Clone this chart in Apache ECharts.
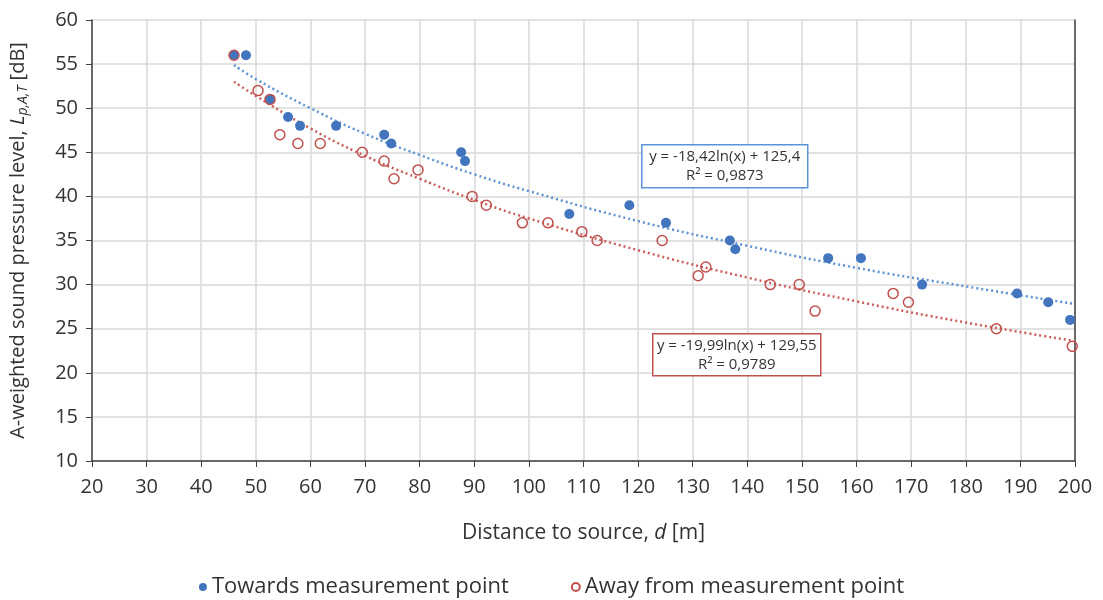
<!DOCTYPE html>
<html>
<head>
<meta charset="utf-8">
<script src="https://cdn.jsdelivr.net/npm/echarts@6/dist/echarts.min.js"></script>
<style>
  html, body { margin: 0; padding: 0; background: #fff; }
  #chart { width: 1103px; height: 600px; }
</style>
</head>
<body>
<div id="chart"></div>
<script>
var towardsX = [46, 48.2, 52.6, 55.9, 58.1, 64.7, 73.5, 74.8, 87.6, 88.3, 107.4, 118.4, 125.1, 136.8, 137.8, 154.8, 160.8, 172, 189.4, 195.1, 199.1];
var towardsY = [56, 56, 51, 49, 48, 48, 47, 46, 45, 44, 38, 39, 37, 35, 34, 33, 33, 30, 29, 28, 26];

var awayX = [46, 50.4, 52.6, 54.4, 57.7, 61.8, 69.5, 73.5, 75.3, 79.7, 89.6, 92.2, 98.8, 103.5, 109.7, 112.5, 124.4, 131, 132.4, 144.2, 149.5, 152.4, 166.7, 169.5, 185.6, 199.5];
var awayY = [56, 52, 51, 47, 46, 46, 45, 44, 42, 43, 40, 39, 37, 37, 36, 35, 35, 31, 32, 30, 30, 27, 29, 28, 25, 23];

// trend lines
var trendX = [46, 50, 60, 70, 80, 90, 100, 120, 140, 160, 180, 200];
var towardsTrend = [54.9, 53.3, 50.0, 47.1, 44.7, 42.5, 40.6, 37.2, 34.4, 31.9, 29.8, 27.8];
var awayTrend = [53.0, 51.4, 47.7, 44.6, 42.0, 39.6, 37.5, 33.9, 30.8, 28.1, 25.7, 23.6];

var towardsEq = ['y = -18,42ln(x) + 125,4', 'R\u00b2 = 0,9873'];
var awayEq = ['y = -19,99ln(x) + 129,55', 'R\u00b2 = 0,9789'];

var blue = '#4275bd';
var red = '#c0504d';
var font = 'Open Sans';
var ink = '#333333';

function pairs(xs, ys) {
    return xs.map(function (x, i) { return [x, ys[i]]; });
}

var chart = echarts.init(document.getElementById('chart'));

var option = {
    animation: false,
    textStyle: { fontFamily: font },
    grid: { left: 92, right: 28, top: 20, bottom: 139 },
    legend: {
        bottom: -3,
        left: 'center',
        itemGap: 62,
        itemWidth: 8,
        itemHeight: 8,
        textStyle: { fontSize: 22, color: ink, fontFamily: font },
        data: ['Towards measurement point', 'Away from measurement point']
    },
    xAxis: {
        type: 'value',
        min: 20,
        max: 200,
        interval: 10,
        name: 'Distance to source, {i|d} [m]',
        nameLocation: 'middle',
        nameGap: 62,
        nameTextStyle: {
            fontSize: 21, color: ink, fontFamily: font,
            rich: { i: { fontStyle: 'italic', fontSize: 21, color: ink, fontFamily: font } }
        },
        axisLine: { show: true, lineStyle: { color: '#404040', width: 1.5 } },
        axisTick: { show: true, length: 6, lineStyle: { color: '#404040' } },
        axisLabel: { fontSize: 20, color: ink, margin: 16 },
        splitLine: { show: true, lineStyle: { color: '#d9d9d9', width: 1.5 } }
    },
    yAxis: [{
        type: 'value',
        min: 10,
        max: 60,
        interval: 5,
        name: 'A-weighted sound pressure level, {i|L}{s|p,A,T} [dB]',
        nameLocation: 'middle',
        nameGap: 62,
        nameTextStyle: {
            fontSize: 20, color: ink, fontFamily: font,
            rich: {
                i: { fontStyle: 'italic', fontSize: 20, color: ink, fontFamily: font },
                s: { fontStyle: 'italic', fontSize: 14, color: ink, fontFamily: font, padding: [9, 0, 0, 0] }
            }
        },
        axisLine: { show: true, lineStyle: { color: '#404040', width: 1.5 } },
        axisTick: { show: true, length: 6, lineStyle: { color: '#404040' } },
        axisLabel: { fontSize: 20, color: ink, margin: 14 },
        splitLine: { show: true, lineStyle: { color: '#d9d9d9', width: 1.5 } }
    }, {
        type: 'value',
        position: 'right',
        min: 10,
        max: 60,
        interval: 5,
        axisLine: { show: true, lineStyle: { color: '#404040', width: 1.5 } },
        axisTick: { show: false },
        axisLabel: { show: false },
        splitLine: { show: false }
    }],
    series: [{
        name: 'towards trend',
        type: 'line',
        data: pairs(trendX, towardsTrend),
        smooth: true,
        showSymbol: false,
        silent: true,
        z: 1,
        lineStyle: { color: '#5b93d3', width: 2.5, type: [2, 3] }
    }, {
        name: 'away trend',
        type: 'line',
        data: pairs(trendX, awayTrend),
        smooth: true,
        showSymbol: false,
        silent: true,
        z: 1,
        lineStyle: { color: '#cd5c58', width: 2.5, type: [2, 3] }
    }, {
        name: 'Towards measurement point',
        type: 'scatter',
        symbol: 'circle',
        symbolSize: 10,
        z: 3,
        itemStyle: { color: blue, opacity: 1 },
        data: pairs(towardsX, towardsY)
    }, {
        name: 'Away from measurement point',
        type: 'scatter',
        symbol: 'circle',
        symbolSize: 10,
        z: 4,
        itemStyle: { color: 'rgba(255,255,255,0)', borderColor: red, borderWidth: 1.5, opacity: 1 },
        data: pairs(awayX, awayY)
    }],
    graphic: [{
        type: 'group',
        left: 641,
        top: 144,
        z: 100,
        children: [{
            type: 'rect',
            z: 100,
            shape: { x: 0, y: 0, width: 166, height: 43 },
            style: { fill: '#fff', stroke: '#5b93d3', lineWidth: 1.5 }
        }, {
            type: 'text',
            z: 101,
            x: 83,
            y: 2,
            style: {
                text: towardsEq.join('\n'),
                align: 'center',
                fill: ink,
                fontSize: 15,
                fontFamily: font,
                lineHeight: 19
            }
        }]
    }, {
        type: 'group',
        left: 652,
        top: 333,
        z: 100,
        children: [{
            type: 'rect',
            z: 100,
            shape: { x: 0, y: 0, width: 168, height: 42 },
            style: { fill: '#fff', stroke: red, lineWidth: 1.5 }
        }, {
            type: 'text',
            z: 101,
            x: 84,
            y: 2,
            style: {
                text: awayEq.join('\n'),
                align: 'center',
                fill: ink,
                fontSize: 15,
                fontFamily: font,
                lineHeight: 19
            }
        }]
    }]
};

chart.setOption(option);
</script>
</body>
</html>
